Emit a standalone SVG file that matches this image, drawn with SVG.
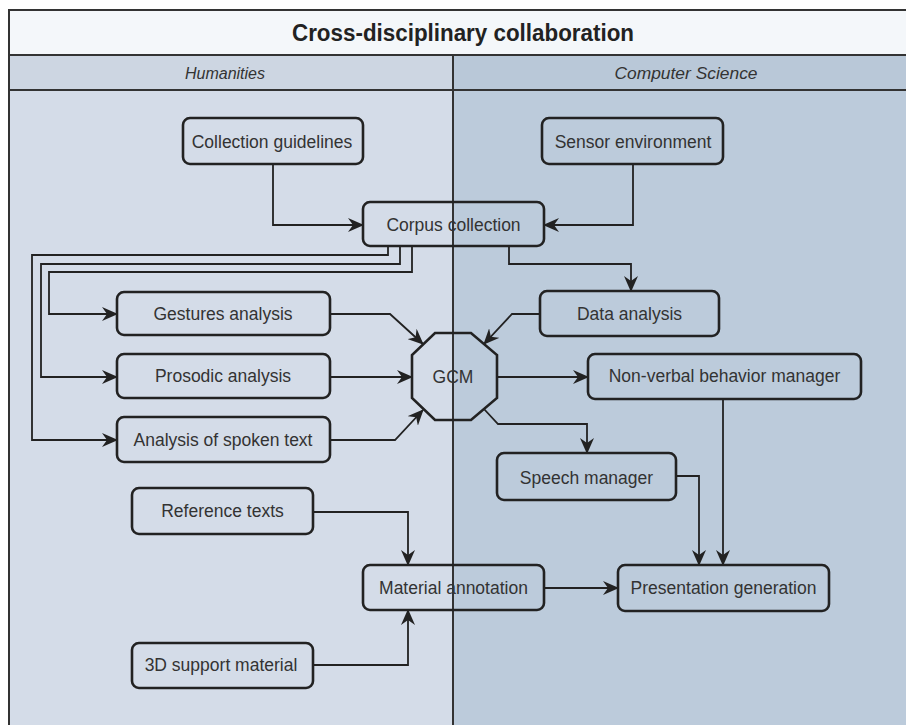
<svg xmlns="http://www.w3.org/2000/svg" width="906" height="725" viewBox="0 0 906 725">
<defs>
<marker id="ah" viewBox="0 0 16 14" refX="15" refY="7" markerWidth="16" markerHeight="14" markerUnits="userSpaceOnUse" orient="auto">
<path d="M0,0 L16,7 L0,14 L5,7 Z" fill="#222"/>
</marker>
</defs>
<style>
.node rect, .node polygon { fill: none; stroke: #222; stroke-width: 2.6; }
.node text { font-family: "Liberation Sans", Arial, sans-serif; font-size: 17.5px; fill: #333; text-anchor: middle; dominant-baseline: central; }
.conn path { fill: none; stroke: #222; stroke-width: 1.8; marker-end: url(#ah); }
.hdr { font-family: "Liberation Sans", Arial, sans-serif; font-size: 16px; font-style: italic; fill: #333; text-anchor: middle; dominant-baseline: central; }
.frame { stroke: #333; stroke-width: 2; fill: none; }
</style>
<rect x="0" y="0" width="906" height="725" fill="#ffffff"/>
<g id="pool">
<rect x="9" y="10" width="900" height="45" fill="#f4f7fa"/>
<rect x="9" y="55" width="444" height="35" fill="#cdd6e2"/>
<rect x="453" y="55" width="456" height="35" fill="#b9c8d8"/>
<rect x="9" y="90" width="444" height="640" fill="#d4dce8"/>
<rect x="453" y="90" width="456" height="640" fill="#bccbdb"/>
<path class="frame" d="M9,730 V10 H910 M9,55 H910 M9,90 H910 M453,55 V730"/>
<text x="463" y="33" font-family="Liberation Sans, Arial, sans-serif" font-size="23" font-weight="bold" fill="#222" text-anchor="middle" dominant-baseline="central" textLength="342" lengthAdjust="spacingAndGlyphs">Cross-disciplinary collaboration</text>
<text class="hdr" x="225" y="73" textLength="80" lengthAdjust="spacingAndGlyphs">Humanities</text>
<text class="hdr" x="686" y="73" textLength="143" lengthAdjust="spacingAndGlyphs">Computer Science</text>
</g>
<g id="connectors" class="conn">
<path d="M273,164 V225 H363"/>
<path d="M633,164 V225 H544"/>
<path d="M509,246 V264 H631 V291"/>
<path d="M388,246 V255 H32 V440 H117"/>
<path d="M400,246 V264 H41 V377 H117"/>
<path d="M412,246 V272 H49 V314 H117"/>
<path d="M330,314 H390 L423,344"/>
<path d="M330,377 H412"/>
<path d="M330,440 H395 L423,410"/>
<path d="M540,314 H512 L484,344"/>
<path d="M497,377 H588"/>
<path d="M484,409 L498,424 H587 V453"/>
<path d="M676,476 H699 V565"/>
<path d="M723,399 V565"/>
<path d="M544,588 H618"/>
<path d="M313,512 H408 V565"/>
<path d="M313,665 H408 V610"/>
</g>
<g id="collection-guidelines" class="node"><rect x="183" y="118" width="180" height="46" rx="7"/><text x="272" y="142">Collection guidelines</text></g>
<g id="sensor-environment" class="node"><rect x="542" y="118" width="181" height="46" rx="7"/><text x="633" y="142">Sensor environment</text></g>
<g id="corpus-collection" class="node"><rect x="363" y="202" width="181" height="44" rx="7"/><text x="453.5" y="225">Corpus collection</text></g>
<g id="data-analysis" class="node"><rect x="540" y="291" width="179" height="45" rx="7"/><text x="629.5" y="314">Data analysis</text></g>
<g id="gestures-analysis" class="node"><rect x="117" y="292" width="213" height="43" rx="7"/><text x="223" y="314">Gestures analysis</text></g>
<g id="prosodic-analysis" class="node"><rect x="117" y="354" width="213" height="44" rx="7"/><text x="223" y="376">Prosodic analysis</text></g>
<g id="analysis-spoken-text" class="node"><rect x="117" y="417" width="213" height="45" rx="7"/><text x="223" y="440">Analysis of spoken text</text></g>
<g id="gcm" class="node"><polygon points="435,333 471,333 497,355 497,398 471,420 435,420 412,398 412,355"/><text x="453" y="377">GCM</text></g>
<g id="non-verbal-behavior-manager" class="node"><rect x="588" y="354" width="273" height="45" rx="7"/><text x="724.5" y="376">Non-verbal behavior manager</text></g>
<g id="speech-manager" class="node"><rect x="497" y="453" width="179" height="47" rx="7"/><text x="586.5" y="478">Speech manager</text></g>
<g id="reference-texts" class="node"><rect x="132" y="488" width="181" height="46" rx="7"/><text x="222.5" y="511">Reference texts</text></g>
<g id="material-annotation" class="node"><rect x="363" y="565" width="181" height="45" rx="7"/><text x="453.5" y="588">Material annotation</text></g>
<g id="presentation-generation" class="node"><rect x="618" y="565" width="211" height="46" rx="7"/><text x="723.5" y="588">Presentation generation</text></g>
<g id="support-material-3d" class="node"><rect x="132" y="643" width="181" height="45" rx="7"/><text x="221" y="665">3D support material</text></g>
</svg>
